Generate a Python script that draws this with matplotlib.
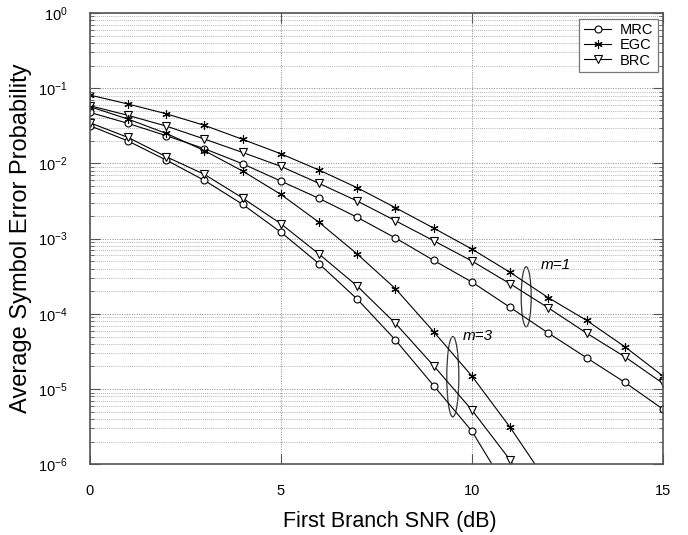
import numpy as np
import matplotlib
matplotlib.use('Agg')
import matplotlib.pyplot as plt
from matplotlib.patches import Ellipse
from matplotlib.ticker import LogLocator, FixedLocator, NullFormatter

plt.rcParams['font.family'] = ['Liberation Sans', 'DejaVu Sans']
plt.rcParams['mathtext.default'] = 'regular'

# SNR of the first branch (dB)
snr_m1 = [0, 1, 2, 3, 4, 5, 6, 7, 8, 9, 10, 11, 12, 13, 14, 15]
snr_m3 = [0, 1, 2, 3, 4, 5, 6, 7, 8, 9, 10, 11, 12]

# m = 1
mrc_m1 = [4.78e-2, 3.41e-2, 2.34e-2, 1.57e-2, 9.9e-3, 5.83e-3, 3.43e-3, 1.92e-3,
          1.02e-3, 5.14e-4, 2.65e-4, 1.22e-4, 5.55e-5, 2.61e-5, 1.23e-5, 5.4e-6]
egc_m1 = [8.12e-2, 6.17e-2, 4.58e-2, 3.21e-2, 2.09e-2, 1.345e-2, 8.17e-3, 4.75e-3,
          2.58e-3, 1.38e-3, 7.27e-4, 3.56e-4, 1.64e-4, 8.2e-5, 3.66e-5, 1.49e-5]
brc_m1 = [5.86e-2, 4.36e-2, 3.14e-2, 2.11e-2, 1.40e-2, 9.15e-3, 5.43e-3, 3.16e-3,
          1.73e-3, 9.38e-4, 5.04e-4, 2.51e-4, 1.2e-4, 5.55e-5, 2.69e-5, 1.19e-5]

# m = 3
mrc_m3 = [3.18e-2, 1.99e-2, 1.11e-2, 5.96e-3, 2.86e-3, 1.22e-3, 4.64e-4, 1.57e-4,
          4.49e-5, 1.11e-5, 2.76e-6, 4.0e-7, 5.0e-8]
egc_m3 = [5.7e-2, 3.89e-2, 2.51e-2, 1.48e-2, 7.92e-3, 3.88e-3, 1.65e-3, 6.24e-4,
          2.16e-4, 5.78e-5, 1.49e-5, 3.1e-6, 5.5e-7]
brc_m3 = [3.48e-2, 2.22e-2, 1.23e-2, 7.16e-3, 3.47e-3, 1.58e-3, 6.24e-4, 2.34e-4,
          7.46e-5, 2.04e-5, 5.26e-6, 1.14e-6, 2.0e-7]

fig = plt.figure(figsize=(6.88, 5.35), dpi=100)
ax = fig.add_axes([0.1304, 0.1321, 0.8333, 0.8436])

star = (6, 2, 0)  # asterisk marker
line_kw = dict(color='black', lw=0.8, mfc='white', mec='black', mew=0.8)
ax.plot(snr_m1, mrc_m1, marker='o', ms=5, label='MRC', **line_kw)
ax.plot(snr_m1, egc_m1, marker=star, ms=6, label='EGC', **line_kw)
ax.plot(snr_m1, brc_m1, marker='v', ms=5.5, label='BRC', **line_kw)
ax.plot(snr_m3, mrc_m3, marker='o', ms=5, **line_kw)
ax.plot(snr_m3, egc_m3, marker=star, ms=6, **line_kw)
ax.plot(snr_m3, brc_m3, marker='v', ms=5.5, **line_kw)

ax.set_yscale('log')
ax.set_xlim(0, 15)
ax.set_ylim(1e-6, 1e0)
ax.xaxis.set_major_locator(FixedLocator([0, 5, 10, 15]))
ax.yaxis.set_major_locator(FixedLocator([1e-6, 1e-5, 1e-4, 1e-3, 1e-2, 1e-1, 1e0]))
ax.yaxis.set_minor_locator(LogLocator(base=10, subs=np.arange(2, 10), numticks=20))
ax.yaxis.set_minor_formatter(NullFormatter())
ax.set_yticklabels(['$10^{%d}$' % k for k in range(-6, 1)])

ax.grid(True, which='major', axis='both', ls=(0, (1, 1.5)), color='#888888', lw=0.7)
ax.grid(True, which='minor', axis='y', ls=(0, (1, 1.5)), color='#999999', lw=0.6)

ax.tick_params(which='both', direction='in', top=True, right=True, color='#555555')
ax.tick_params(which='major', length=7, width=0.8, labelsize=10.5, pad=14)
ax.tick_params(which='minor', length=3, width=0.6)
ax.tick_params(axis='y', which='major', pad=16)
for s in ax.spines.values():
    s.set_color('#555555')
    s.set_linewidth(1.2)

ax.set_xlabel('First Branch SNR (dB)', fontsize=15.5)
ax.xaxis.set_label_coords(0.524, -0.103)
ax.set_ylabel('Average Symbol Error Probability', fontsize=17, labelpad=4)

leg = ax.legend(loc='upper right', bbox_to_anchor=(0.991, 0.987), borderaxespad=0,
                fontsize=10.5, handlelength=1.9, handletextpad=0.6, borderpad=0.3,
                labelspacing=0.08, fancybox=False, framealpha=1, edgecolor='#777777')
leg.get_frame().set_linewidth(0.9)

# groups of curves: ellipse centre (dB, log10 Pe), size in axes fraction
groups = [('m=1', 11.42, -3.773, 11.79, -3.351, 0.0174, 0.133),
          ('m=3', 9.50, -4.836, 9.77, -4.30, 0.021, 0.178)]
for label, ex, ey, tx, ty, w, h in groups:
    ax.add_patch(Ellipse(((ex - 0) / 15, (ey + 6) / 6), w, h, transform=ax.transAxes,
                         fill=False, ec='#333333', lw=0.9))
    ax.text(tx, 10 ** ty, label, style='italic', fontsize=11, va='center', ha='left')

fig.savefig('out.png', dpi=100)
